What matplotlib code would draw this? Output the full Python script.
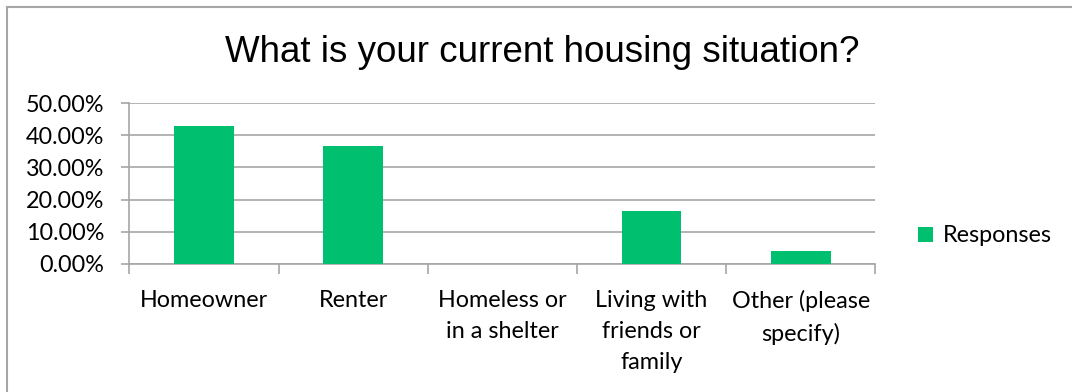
import matplotlib
matplotlib.use("Agg")
import matplotlib.pyplot as plt
from matplotlib.patches import Patch
from matplotlib.lines import Line2D
import numpy as np

categories = ["Homeowner", "Renter", "Homeless or\nin a shelter",
              "Living with\nfriends or\nfamily", "Other (please\nspecify)"]
responses = [42.9, 36.7, 0.0, 16.3, 4.1]
y_ticks = [0, 10, 20, 30, 40, 50]
y_labels = ["0.00%", "10.00%", "20.00%", "30.00%", "40.00%", "50.00%"]

BAR = "#00BF6F"
GRID = "#A6A6A6"
W, H = 1072, 392
FS = 16.8

fig = plt.figure(figsize=(W / 100, H / 100), dpi=100)
ax = fig.add_axes([129.3 / W, 1 - 263.7 / H, (875.3 - 129.3) / W, (263.7 - 103.3) / H])

x = np.arange(len(categories))
ax.bar(x, responses, width=0.4, color=BAR, zorder=3, label="Responses")

ax.set_xlim(-0.5, len(categories) - 0.5)
ax.set_ylim(0, 50)
ax.set_yticks(y_ticks)
ax.set_yticklabels(y_labels, fontfamily="Lato", fontsize=FS)
ax.yaxis.grid(True, color=GRID, linewidth=1.2, zorder=0)
ax.tick_params(axis="y", length=6, color=GRID, width=1.2, pad=12)

# category labels centred, tick marks on category boundaries
ax.set_xticks(x)
ax.set_xticklabels(categories, fontfamily="Lato", fontsize=FS, linespacing=1.6)
ax.tick_params(axis="x", length=0, pad=19)
ax.set_xticks(np.arange(-0.5, len(categories)), minor=True)
ax.tick_params(axis="x", which="minor", length=7, color=GRID, width=1.2)

for side in ("top", "right"):
    ax.spines[side].set_visible(False)
for side in ("left", "bottom"):
    ax.spines[side].set_color(GRID)
    ax.spines[side].set_linewidth(1.2)

fig.text(0.5 * (222 + 862) / W, 1 - 62 / H, "What is your current housing situation?",
         ha="center", va="baseline", fontfamily="Liberation Sans", fontsize=26.5)

fig.legend(handles=[Patch(facecolor=BAR, edgecolor="none")], labels=["Responses"],
           loc="center left", bbox_to_anchor=(918 / W, 1 - 236 / H), frameon=False,
           prop={"family": "Lato", "size": FS}, handlelength=0.65, handleheight=0.65,
           handletextpad=0.4, borderaxespad=0, borderpad=0)

# chart-area frame along the left and top edges
fig.add_artist(Line2D([6.5 / W, 6.5 / W], [0, 1 - 7 / H], transform=fig.transFigure,
                      color=GRID, linewidth=1.5))
fig.add_artist(Line2D([6.5 / W, 1], [1 - 7 / H, 1 - 7 / H], transform=fig.transFigure,
                      color=GRID, linewidth=1.5))

fig.savefig("out.png", dpi=100)
